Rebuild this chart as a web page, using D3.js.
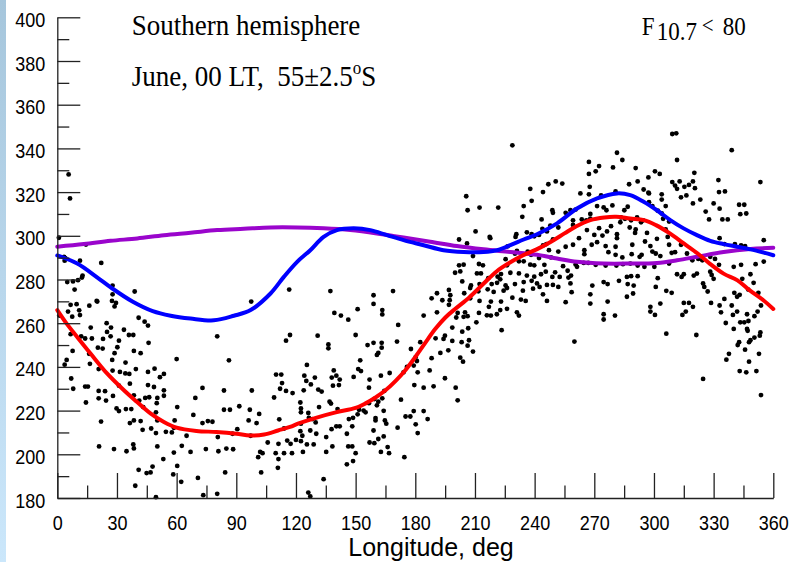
<!DOCTYPE html>
<html><head><meta charset="utf-8">
<script src="https://cdn.jsdelivr.net/npm/d3@7"></script>
<style>body{margin:0;background:#fff;}svg{display:block}</style>
</head><body>
<svg id="chart" width="792" height="562"></svg>
<script>
// ---------------- data ----------------
const xTickValues = [0,30,60,90,120,150,180,210,240,270,300,330,360];
const xMinorTicks = [15,45,75,105,135,165,195,225,255,285,315,345];
const yTickValues = [180,200,220,240,260,280,300,320,340,360,380,400];
const yMinorTicks = [190,210,230,250,270,290,310,330,350,370,390];

const titleLine1 = "Southern hemisphere";
const titleLine2 = "June, 00 LT,  55\u00b12.5";
const fluxLabel = ["F", "10.7", "<", "80"];
const xAxisTitle = "Longitude, deg";

// model curves (longitude, value)
const redLon = [0,4.7,10,16.8,25,33.5,40,47,53.6,60,70,80,90,97,104,111,117,121,130,140,150,155,160,165,170,175,180,185,190,195,200,207,214,221,228,234,241,248,255,261,268,275,281,288,295,301,308,315,322,328,335,342,348,355,360];
const redVal = [266,259.8,253.7,246,237,229.3,224,218.6,214.8,212.2,210.7,210.2,209.4,208.6,209.1,210.9,212.5,214,216.7,219.2,221.2,223.3,226,229.3,233.5,238.5,244.5,251,257.3,262.5,266.5,271.7,277.8,283.8,288,291,293.8,297.2,301.1,304.4,307.2,308.4,308.7,307.9,307.2,304.9,301.1,296.5,291.9,287.3,282.7,279.6,275.1,270.5,266.5];

const blueLon = [0,10,20,27,38,48,57,67,78.7,88.8,97.2,107.2,113.9,120.6,127.2,133.9,140.6,149,157.4,165.7,174.1,184.2,194.2,204.3,214.3,221.1,227.8,234.5,241.2,251.3,261.3,271.4,281.4,288.1,294.8,301.5,308.2,314.9,321.6,328.3,335,341.8,348.5,355.2,360];
const blueVal = [291,287.3,281,276.3,269.8,265.5,263.4,262.1,261.3,263.4,266,273.6,281.2,288.1,293.4,299.5,302.6,303.4,302.6,300.3,298,295.7,293.4,292.6,292.6,293.4,295.7,298.3,300.7,305.7,312.5,317.1,319.4,318.6,315.6,311.7,307.2,303.4,300.3,297.7,296.2,295,293.8,292.3,291.1];

const purpleLon = [0,13.4,26.8,40.2,53.6,67,80.4,93.8,107.2,120.6,133.9,147.3,160.7,174.1,187.5,200.9,214.3,227.8,241.2,251.3,261.3,274.7,288.1,301.5,311.6,321.6,335,348.5,360];
const purpleVal = [295,296.2,297.7,298.8,300.3,301.4,302.6,303.2,303.8,303.8,303.4,302.6,301.1,299.2,297.3,295.3,293.8,292.6,291.3,289.6,288.1,287.3,287.3,287.6,288.8,290.4,292.6,294,294.5];

// observations (longitude, value)
const obsWestUpper = [[5.7,328.1],[6.4,317.1],[0.8,299.1],[14.4,296],[3.4,290.4],[4,289.8],[3.7,288.6],[11.4,288.6],[22.1,287.6],[12.7,281.8],[10.4,279.7],[5,278.8],[8.7,275.4],[27.8,277.2],[27.8,273.2],[38.9,274.5],[27.5,270.2],[29.5,269.3],[28.8,267.7],[20.1,269.9],[16.1,268],[9.7,268.7],[6.7,268.4],[97.5,269.9],[116.6,275.4],[7.9,279.1],[12.4,280.9],[1,263.5],[5.4,265.3],[11,265.9],[19.8,270.2]];
const obsWestLower = [[7.5,263],[11.4,263.7],[16.8,258],[24.8,260],[27,258],[25,256],[6.7,255],[12,254],[14,253],[17.4,253],[23,252.8],[26.8,254],[33.5,257],[36,254.6],[38.2,254.6],[40.9,262.5],[43.9,260.7],[45.6,258.9],[31,252],[45.9,251],[20.4,248.8],[22.8,248.4],[28.8,246.3],[30.2,249],[16,246],[7.7,247.3],[38.5,247.3],[41.9,246.3],[27.6,243.2],[4.7,243.2],[3.7,241],[16.4,241.4],[34.3,242],[60,243.6],[86.3,243],[80.4,254],[117,254.6],[115,252],[20.8,239],[27.8,238.3],[31.5,237.7],[34.2,237],[36.2,236.8],[39.5,239],[45.6,237.7],[48.9,239.2],[53.6,236.8],[51.6,235.3],[7,234.7],[14,231],[15.4,231],[8,230],[20.8,229],[24,228.9],[31,231.4],[36.5,232.3],[45.6,231.7],[48.6,230.8],[53.6,229.3],[53.6,226.8],[73,230.4],[83.8,229.2],[97.8,229.2],[112,230],[115,229],[110,236.5],[112.6,236.5],[113,232.6],[118.3,228],[109,226],[14.4,223.7],[20.8,225.6],[24.5,224.6],[28,226.7],[38.5,227],[41.2,224.6],[44.2,225.8],[46.2,226.1],[50.3,225.8],[50,223.4],[29.8,221],[31,219.8],[34.5,220.7],[37.2,220.7],[43.2,221.6],[49.6,219.2],[69.4,225.8],[60.3,221.6],[83.8,220.4],[86.8,220.4],[91.5,222],[96.8,220.4],[101.5,218.5],[22,215],[36.5,214.3],[38.5,215.5],[41.9,215.2],[50.3,215.5],[59,215.5],[68.4,218],[73,214.3],[75.7,215.2],[78,214.9],[96.2,215.5],[100.2,214.3],[111.6,216],[42.9,211.2],[47.2,211.8],[49.6,209.7],[54.6,210.3],[57.6,210],[58.6,212.1],[65,208.5],[80.7,207.9],[88.1,209.4],[90.5,211.5],[97.2,208.5],[114,211.8],[115.6,206.3],[117.3,204.8],[120,206.6],[111.2,204.8],[21,203.6],[28.5,202.4],[34.8,201.4],[38.2,204.5],[38.5,202.7],[50.3,203.6],[58.6,200.8],[62.6,203.9],[67,201.1],[74.7,202.4],[81,201.4],[85,202.6],[88.4,202.3],[102,201.1],[103.2,200.5],[101,198.7],[105.8,205.4],[109.8,200.5],[114,200.5],[118,200.5],[53.3,197.8],[60.3,194.7],[111.2,197.8],[110.9,193.8],[40.9,192.9],[44.9,191.4],[46.9,191.7],[47.9,194.4],[58.3,190.8],[62.3,187.4],[70.7,189.2],[84.4,191.7],[102.5,191.7],[39.2,185.6],[49.6,180.4],[73.4,181.3],[80.4,181.9]];
const obsMidUpper = [[228.8,341.4],[237.8,321.5],[238.5,316],[205.6,318.1],[206.3,311.7],[212.3,312.9],[221.7,312.9],[234.5,313.6],[233.8,308.7],[210.3,302],[217.4,299.5],[217.7,298.9],[202,298.3],[206,296.5],[230.8,300.7],[230.4,299.5],[236.1,301.6],[238.5,300.7],[239.8,299.8],[226.4,295.2],[231.1,293.1],[230.1,291.9],[236.5,292.8],[238.2,291.3],[209,290.7],[204.3,286.8],[202,286.5],[212,287.1],[214,286.5],[225.4,289.3],[226.1,286.5],[232.1,288.3],[234.5,288.3],[237.8,286.8],[239.8,286.5],[200,283.1],[202.6,283.7],[211,282.8],[213,282.8],[216.7,280.6],[221.4,281.3],[223.1,282.5],[222.7,280.1],[227.8,283.1],[232.1,282.8],[236.1,281.8],[239.8,281.3],[203.6,279.1],[208,277.3],[212.3,277.9],[218.4,277.9],[221.1,278.5],[225.4,277.3],[230.1,277.9],[234.5,278.8],[238.5,279.4],[241.2,278.2],[196.9,275.2],[197.6,272.8],[190.9,273.7],[204.6,273.7],[207.6,276.1],[211.7,274.6],[216.4,275.5],[219.4,274.3],[224.4,274.9],[226.1,276.1],[234.1,274.9],[239.2,275.8],[193.6,270.5],[197.3,270.5],[188.2,271.4],[207.6,271.4],[212.3,270.2],[218,269.9],[223.1,269.9],[228.8,271.7],[233.1,270.8],[235.5,270.2],[196.9,268.4],[201.3,264.7],[205,265],[212,264.7],[216,263.6],[221,264.1],[222.7,266],[226.1,266.6],[231.1,265],[217,267.5],[137.3,274.7],[159,272.8],[168.8,274.7],[159,268.8],[151,266.4],[163.4,264]];
const obsMidLower = [[139.3,264.7],[142.6,263.5],[146.3,261.6],[163.4,266],[184.2,263.5],[190.9,265],[130.9,254.3],[150,254.6],[171.4,259.2],[136.3,250.3],[136.3,248.5],[156,250],[159,251],[163.1,251],[163.1,248.8],[161.4,246.4],[160.7,245.5],[170.8,251.6],[125.5,240.9],[124.2,236],[125.2,233.6],[123.9,229.3],[129.5,235.1],[127.5,232],[131.2,229.6],[132.9,228.7],[139,238.4],[138,235.1],[140.3,236],[142,234.2],[138.6,231.4],[141.6,231.7],[152.3,243],[151.3,239],[152.7,238.1],[149,235.4],[157,234.2],[156.7,230.5],[162.7,236],[167.1,237.2],[164.4,229],[177.8,248.2],[180.2,244.5],[180.8,242.7],[179.2,240.6],[174.1,237.5],[175.8,240],[181.2,237.5],[182.5,251.3],[187.2,238.4],[189.2,231.1],[184.2,230.5],[179.5,231.7],[194.2,252.8],[194.9,254.3],[190.2,253.1],[192.6,246.4],[188.2,244],[196.6,247.6],[198.6,258],[200.6,262.6],[204.3,262.9],[206.3,263.2],[203.6,256.1],[206.6,257.7],[210.7,260.4],[198.6,251.9],[203.3,251.3],[207,252.2],[206.3,249.7],[209,247],[202.6,244.2],[204,242.4],[194.9,234.8],[200.3,230.5],[201.3,224.7],[218,263.5],[232.1,263.5],[223.4,256.8],[122.2,223.7],[122.5,221],[122.5,219.2],[126.2,218.9],[126.5,216.7],[128.2,216.1],[131.6,221.6],[129.9,214.6],[122.5,214],[127.2,210.9],[122.2,210.6],[123.2,208.5],[122.5,206],[125.5,204.5],[128.9,204.5],[123.5,201.1],[130.2,209.4],[135.2,207.9],[136.9,224.1],[137.6,223.2],[140.9,220.7],[137.9,211.5],[140.3,212.8],[142,212.8],[138.3,203.6],[135.2,201.1],[145.6,209.4],[146.3,203.6],[148.3,203.6],[150,200.5],[145.6,195.4],[148.7,196.9],[146.6,216.1],[148.7,216.7],[148.3,212.8],[151,218.3],[151.7,220.4],[154,220],[155,219.2],[156.7,223.4],[159.4,225.3],[161.4,224.1],[163.4,225.6],[160.7,222.4],[164.1,219.9],[160,216.6],[160,215.5],[164.7,215.5],[165.4,214],[159,210.9],[164.1,208.2],[161.4,207],[157,205.4],[159.4,205.1],[162.7,201.1],[166.1,203.3],[166.8,200.5],[172.8,225],[175.1,217.3],[177.5,217.3],[171.1,212.2],[174.5,198.7],[179.2,219.8],[180.2,213.7],[184.2,219.8],[181.2,209.7],[186.2,216.1],[133.9,188.6],[126.2,182.5],[127.2,180.7]];
const obsEastUpper = [[309.2,346.6],[311.2,346.9],[281.4,338],[339.1,339.2],[284.1,334.7],[267.3,333.8],[272.4,331.9],[270.7,329.5],[267.3,328.3],[279.4,331.3],[290.8,331],[300.5,329.5],[302.9,328.3],[311.6,334.7],[320.3,328.8],[332.4,325.5],[353.5,324.6],[244.2,320],[246.9,323.6],[250.6,324.9],[253.9,323.9],[267.7,322.4],[267.3,319],[263,319.4],[273.4,318.5],[280.7,320.3],[287.5,323.6],[291.8,324.9],[294.8,321.2],[297.5,319.4],[297.2,326.7],[303.9,319],[309.2,324.6],[310.6,323],[312.9,324.9],[315.3,322.4],[317.6,323.3],[319.6,324.9],[320.6,321.8],[311.6,321.5],[313.6,317.6],[316.3,318.5],[319.6,314.8],[323.3,316.6],[330,314.8],[333,312.4],[335.7,320.3],[332.7,320],[342.8,314.2],[345.4,314.2],[346.4,310.2],[343.4,309.9],[337.1,307.5],[334.4,307.5],[326,311.1],[327.7,307.5],[243.5,307.5],[248.9,311.7],[249.2,310.5],[247.9,304.7],[246.2,302],[243.9,303.2],[242.2,300.4],[251.9,303.8],[255.6,310.5],[258,311.7],[260.6,312],[259.3,307.1],[259.3,305],[263.7,307.5],[266,307.1],[268,307.8],[268,310],[271.4,313.6],[274.7,313],[276.1,311.7],[279.1,313.9],[283.4,308.4],[285.1,311.7],[285.4,307.8],[286.8,313.3],[288.5,307.1],[291.5,308.4],[293.5,306.2],[294.5,307.1],[297.2,319.7],[297.5,315.4],[299.2,313.6],[301.9,311.5],[303.9,310.2],[305.9,313.6],[304.6,307.8],[307.6,306.5],[303.9,316.6],[305.9,302.9],[306.9,299.5],[301.5,298.6],[296.5,301.3],[295.5,297.4],[290.8,302.9],[290.5,301.3],[287.8,303.8],[283.1,306.2],[278.4,304.4],[276.4,302],[274.1,300.1],[272.4,303.5],[270,300.4],[266.3,302.6],[262.3,298.9],[259.3,295.9],[255.6,295],[251.9,292.8],[249.2,298.3],[245.9,296.2],[247.2,293.4],[244.2,295.6],[242.2,289.8],[244.9,286.7],[248.2,290.1],[250.3,283.3],[245.6,283.6],[243.2,282.4],[248.9,281.2],[254.3,286.1],[256.6,284],[258.3,281.8],[258,278.2],[260.6,286.9],[265,293.4],[265,291.6],[267,287.6],[270.7,286.7],[268.7,295.9],[271.4,297.1],[275.7,295.3],[280.7,295],[281.4,298.9],[281.4,300.7],[277.1,292.5],[280.7,291.3],[284.1,290.1],[289.1,295.9],[288.8,291.6],[292.8,290.4],[293.8,291.3],[298.2,295.3],[299.2,292.8],[300.9,291.9],[303.2,290.7],[307.6,295.9],[308.9,292.2],[310.6,292.5],[313.6,295.9],[316.6,291.9],[319.3,288.8],[322.3,289.4],[324.3,288.8],[328.3,290.4],[333,298.9],[335.4,296.2],[340.7,296.2],[343.8,295.6],[345.8,295.3],[355.2,298],[330.7,289.4],[332.7,286.7],[340.1,285.8],[343.8,286.7],[351.1,287],[355.2,288.2],[328.3,283.6],[329,282.1],[330,280.3],[324.7,278.2],[325.3,276.6],[327,274.5],[321.6,282.7],[320,281.8],[315,282.4],[313.9,281.2],[311.6,282.4],[307.6,287.3],[300.2,285.8],[295.2,285.8],[291.8,286.4],[288.1,287.3],[284.4,287],[281.1,286.4],[275.7,286.4],[264.7,287.6],[261.3,285.8],[257,280.9],[252.6,281.2],[242.5,276.6],[246.2,277.5],[249.2,277.5],[251.9,276.6],[244.2,273.2],[246.2,270.2],[255.6,269.6],[258.6,274.2],[269,277.2],[268,273.2],[274.7,278.8],[276.7,277.9],[282.4,279.4],[286.4,281.2],[288.5,281.5],[286.8,277.9],[289.8,277.2],[291.8,281.5],[301.9,280.6],[300.9,276.6],[306.2,274.8],[286.4,272.1],[289.5,273.6],[308.9,273.9],[315,269.3],[317.6,269.3],[319.6,267.5],[328.7,269.3],[333,268.1],[340.4,273.9],[341.8,272.1],[343.1,273],[347.4,275.4],[348.5,282.4],[350.1,278.5],[344.4,280.3],[352.5,273.9],[353.8,268.1],[335.4,271.1],[339.1,268.1],[276.7,269.9],[268,269],[298.2,267.5],[303.2,269]];
const obsEastLower = [[274.7,264.1],[274.7,261.7],[280.4,263.5],[260,251.6],[298.2,265.3],[300.5,263.8],[314.3,263.8],[316,265.3],[333.7,265],[339.7,263.8],[341.8,265.3],[346.8,264.1],[350.5,263.2],[352.1,265.3],[336.1,260.1],[343.4,260.4],[345.4,260.4],[347.5,261],[340.1,257.4],[346.8,257.4],[347.1,256.5],[353.5,255.8],[353.2,254.3],[350.5,253.4],[348.5,252.2],[347.8,251.3],[342.8,251.3],[342.1,250],[306.2,255.2],[321.3,254.6],[345.8,247.9],[337.7,246],[352.8,246],[336.4,243.3],[347.8,242.4],[343.1,238.1],[346.4,237.5],[351.5,238.1],[324.7,234.5],[353.8,227.1]];

// ---------------- drawing ----------------
const svg = d3.select("#chart");
const x = d3.scaleLinear().domain([0,360]).range([57.3,773.3]);
const y = d3.scaleLinear().domain([180,400]).range([498,17.3]);
const sy = 1.12; // vertical stretch of the original lettering

// left decorative strip
const defs = svg.append("defs");
const grad = defs.append("linearGradient").attr("id","strip").attr("x1",0).attr("y1",0).attr("x2",0).attr("y2",1);
grad.append("stop").attr("offset","0%").attr("stop-color","#a6c6dc");
grad.append("stop").attr("offset","100%").attr("stop-color","#cbe7fb");
svg.append("rect").attr("x",0).attr("y",0).attr("width",6).attr("height",562).attr("fill","url(#strip)");

// scatter
const allObs = [].concat(obsWestUpper, obsWestLower, obsMidUpper, obsMidLower, obsEastUpper, obsEastLower);
svg.append("g").selectAll("circle").data(allObs).join("circle")
  .attr("cx", d => x(d[0])).attr("cy", d => y(d[1])).attr("r", 2.4).attr("fill", "#000");

// curves
const line = d3.line().x(d => x(d[0])).y(d => y(d[1])).curve(d3.curveCatmullRom.alpha(0.5));
const curves = [
  {lon: purpleLon, val: purpleVal, color: "#9a05cc"},
  {lon: blueLon, val: blueVal, color: "#0000ff"},
  {lon: redLon, val: redVal, color: "#ff0000"}
];
curves.forEach(c => {
  svg.append("path").datum(c.lon.map((l,i) => [l, c.val[i]]))
    .attr("d", line).attr("fill","none").attr("stroke", c.color)
    .attr("stroke-width", 4).attr("stroke-linejoin","round").attr("stroke-linecap","round");
});

// axes
const axisColor = "#222";
function styleAxis(g){
  g.selectAll("path").attr("stroke", axisColor).attr("stroke-width", 1.3);
  g.selectAll("line").attr("stroke", axisColor).attr("stroke-width", 1.3);
}
const gy = svg.append("g").attr("transform", `translate(${x(0)},0)`)
  .call(d3.axisLeft(y).tickValues(yTickValues).tickSize(-23).tickSizeOuter(0).tickPadding(12).tickFormat(d3.format("d")));
gy.call(styleAxis);
gy.selectAll("text").attr("font-family","Liberation Sans, Arial, sans-serif").attr("font-size",18).attr("fill","#000")
  .attr("x",-12).attr("dy",null).attr("y",0).attr("transform",`translate(0,9) scale(1,${sy})`);
const gyMinor = svg.append("g").attr("transform", `translate(${x(0)},0)`)
  .call(d3.axisLeft(y).tickValues(yMinorTicks).tickSize(-12).tickSizeOuter(0).tickFormat(""));
gyMinor.call(styleAxis); gyMinor.select("path").remove();

const gx = svg.append("g").attr("transform", `translate(0,${y(180)})`)
  .call(d3.axisBottom(x).tickValues(xTickValues).tickSize(-25).tickSizeOuter(0).tickPadding(0).tickFormat(d3.format("d")));
gx.call(styleAxis);
gx.selectAll("text").attr("font-family","Liberation Sans, Arial, sans-serif").attr("font-size",18).attr("fill","#000")
  .attr("y",0).attr("dy",null).attr("transform",`translate(0,32) scale(1,${sy})`);
const gxMinor = svg.append("g").attr("transform", `translate(0,${y(180)})`)
  .call(d3.axisBottom(x).tickValues(xMinorTicks).tickSize(-12.5).tickSizeOuter(0).tickFormat(""));
gxMinor.call(styleAxis); gxMinor.select("path").remove();

// axis title
svg.append("text").attr("text-anchor","middle")
  .attr("transform",`translate(431,556)`)
  .attr("font-family","Liberation Sans, Arial, sans-serif").attr("font-size",25).attr("fill","#000")
  .text(xAxisTitle);

// annotations
const serif = "Liberation Serif, Times New Roman, serif";
svg.append("text").attr("transform","translate(131.7,35) scale(1,1.1)")
  .attr("font-family",serif).attr("font-size",27).attr("fill","#000").text(titleLine1);
const t2 = svg.append("text").attr("transform","translate(131.7,86) scale(1,1.1)")
  .attr("font-family",serif).attr("font-size",27).attr("fill","#000").style("white-space","pre");
t2.append("tspan").text(titleLine2);
t2.append("tspan").attr("font-size",17).attr("dy",-11).text("o");
t2.append("tspan").attr("dy",11).text("S");

const f = svg.append("text").attr("transform","translate(0,35) scale(1,1.1)")
  .attr("font-family",serif).attr("font-size",23).attr("fill","#000");
f.append("tspan").attr("x",641.7).text(fluxLabel[0]);
f.append("tspan").attr("x",656.7).attr("dy",4.5).text(fluxLabel[1]);
f.append("tspan").attr("x",701.7).attr("dy",-6).attr("font-size",21).text(fluxLabel[2]);
f.append("tspan").attr("x",722.7).attr("dy",1.5).text(fluxLabel[3]);
</script>
</body></html>
